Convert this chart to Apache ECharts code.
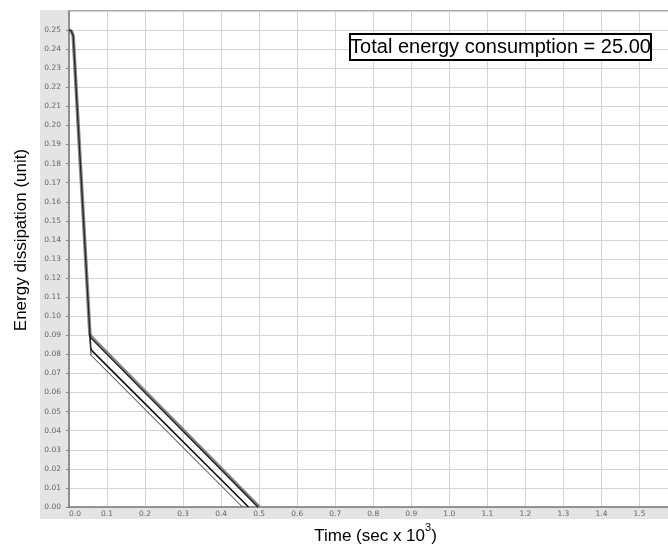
<!DOCTYPE html>
<html><head><meta charset="utf-8">
<script src="https://cdn.jsdelivr.net/npm/echarts@6/dist/echarts.min.js"></script>
<style>html,body{margin:0;padding:0;background:#fff}#c{width:668px;height:544px}</style>
</head><body><div id="c"></div>
<script>
// Data (x: time in sec x 10^3, y: energy dissipation)
const curveTop   = [[0,0.25],[0.006,0.2495],[0.011,0.247],[0.055,0.0905],[0.058,0.0893],[0.50,0.0]];
const curveDark  = [[0,0.25],[0.006,0.2495],[0.011,0.247],[0.055,0.0905],[0.058,0.0885],[0.497,0.0]];
const curveMid   = [[0.055,0.0905],[0.057,0.0835],[0.06,0.082],[0.472,0.0]];
const curveLow   = [[0.055,0.0905],[0.058,0.0795],[0.456,0.0]];
const annotation = 'Total energy consumption = 25.00';
const yTitle = 'Energy dissipation (unit)';

const chart = echarts.init(document.getElementById('c'), null, {renderer:'canvas'});
const lbl = {fontFamily:'DejaVu Sans', fontSize:7.5, color:'#666'};
chart.setOption({
  animation:false,
  grid:{left:69, right:0, top:11, bottom:37, containLabel:false, outerBoundsMode:'none'},
  graphic:{elements:[
    {type:'rect', z:-10, shape:{x:40,y:10,width:29,height:509}, style:{fill:'#e4e4e4'}},
    {type:'rect', z:-10, shape:{x:40,y:507,width:628,height:12}, style:{fill:'#e4e4e4'}},
    {type:'line', z:-5, shape:{x1:69,y1:10.5,x2:668,y2:10.5}, style:{stroke:'#aaa',lineWidth:1}},
    {type:'text', z:100, rotation:Math.PI/2, x:21, y:240,
      style:{text:yTitle, font:'17px "Liberation Sans", Arial', fill:'#000', textAlign:'center', textVerticalAlign:'middle'}},
    {type:'rect', z:100, shape:{x:350,y:34,width:301,height:26}, style:{fill:'#fff', stroke:'#000', lineWidth:2}},
    {type:'text', z:101, x:500.5, y:47.5, style:{text:annotation, font:'20px "Liberation Sans", Arial', fill:'#000', textAlign:'center', textVerticalAlign:'middle'}}
  ]},
  xAxis:{
    type:'value', min:0, max:1.575, interval:0.1,
    name:'{a|Time (sec x 10}{s|3}{a|)}', nameLocation:'middle', nameGap:13,
    nameTextStyle:{padding:[0,0,0,14], rich:{a:{fontFamily:'Liberation Sans', fontSize:17, color:'#000', verticalAlign:'bottom'},
                         s:{fontFamily:'Liberation Sans', fontSize:11, color:'#000', verticalAlign:'top', padding:[0,0,11,0]}}},
    axisLine:{show:true, lineStyle:{color:'#777', width:1.5}},
    axisTick:{show:false},
    axisLabel:Object.assign({margin:3, showMaxLabel:false, alignMinLabel:'left', formatter:v=>v.toFixed(1)}, lbl),
    splitLine:{show:true, lineStyle:{color:'#d4d4d4', width:1}}
  },
  yAxis:{
    type:'value', min:0, max:0.26, interval:0.01,
    axisLine:{show:true, lineStyle:{color:'#777', width:1.5}},
    axisTick:{show:true, length:3, lineStyle:{color:'#888'}},
    axisLabel:Object.assign({margin:8, showMaxLabel:false, formatter:v=>v.toFixed(2)}, lbl),
    splitLine:{show:true, lineStyle:{color:'#d4d4d4', width:1}}
  },
  series:[
    {type:'line', data:curveTop, symbol:'none', lineStyle:{color:'#666', width:3.5, opacity:0.8}, z:2},
    {type:'line', data:curveDark, symbol:'none', lineStyle:{color:'#222', width:1.2}, z:3},
    {type:'line', data:curveMid, symbol:'none', lineStyle:{color:'#111', width:1.6}, z:3},
    {type:'line', data:curveLow, symbol:'none', lineStyle:{color:'#333', width:1}, z:3}
  ]
});
</script></body></html>
